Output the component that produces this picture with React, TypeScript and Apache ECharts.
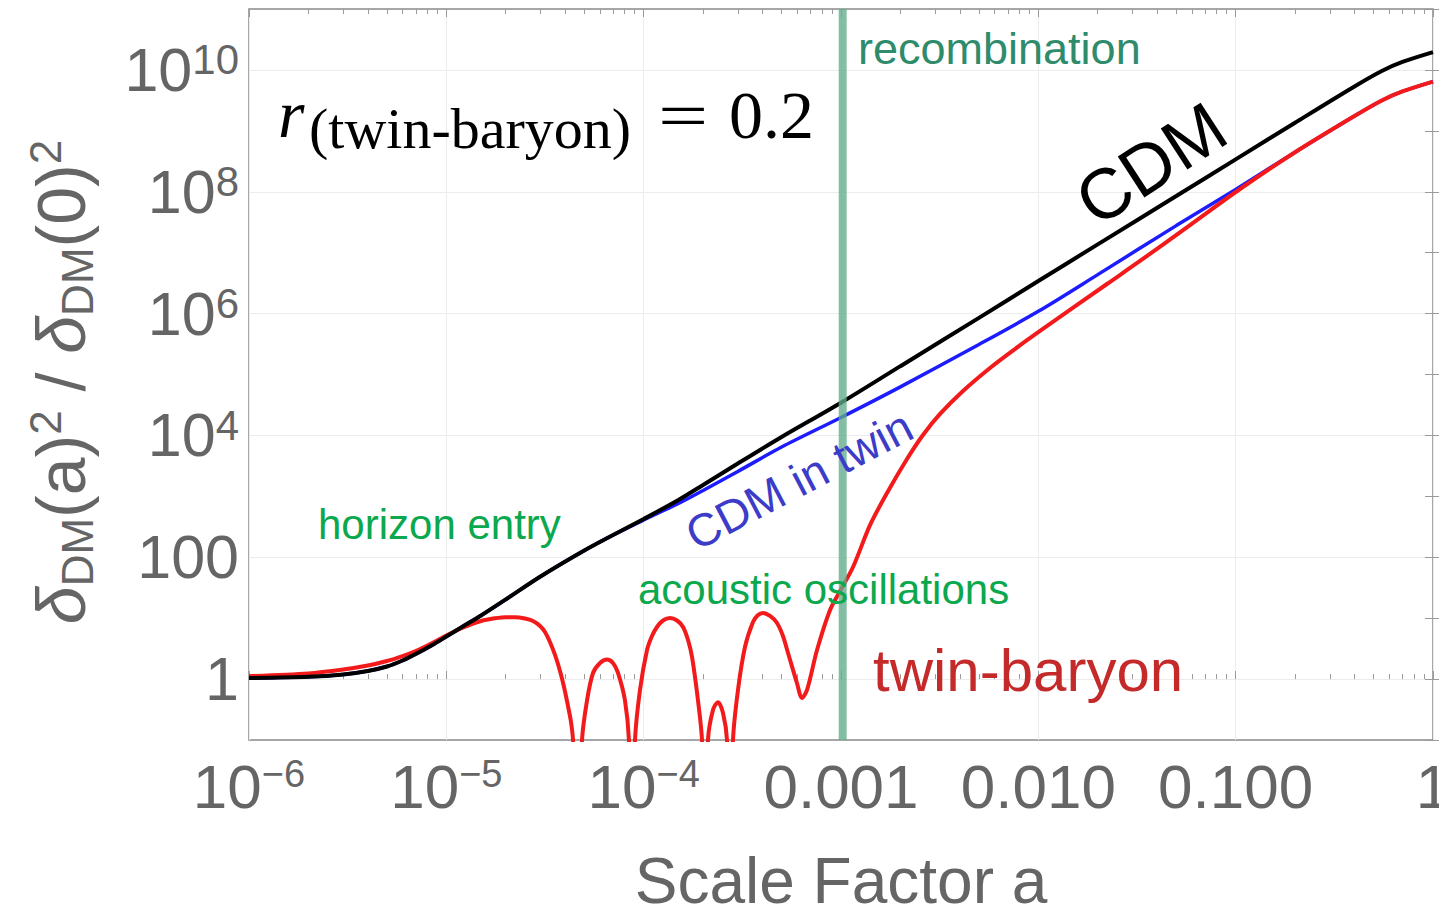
import React, { useEffect, useRef } from 'react';
import * as echarts from 'echarts';

// ---- data (x: scale factor a, y: delta_DM(a)^2 / delta_DM(0)^2) ----
const cdmA = [1e-6, 2e-6, 3e-6, 4e-6, 5e-6, 6e-6, 7e-6, 8.5e-6, 1e-5, 1.2e-5, 1.5e-5, 2e-5, 3e-5, 5e-5, 7e-5, 1e-4, 1.5e-4, 2e-4, 3e-4, 5e-4, 1e-3, 2e-3, 5e-3, 1e-2, 2e-2, 5e-2, 0.1, 0.2, 0.4, 0.55, 0.7, 1];
const cdmDelta2 = [1.04, 1.09, 1.19, 1.36, 1.61, 2.02, 2.58, 3.63, 5.0, 7.17, 11.07, 20.3, 48.3, 129, 232, 425, 871, 1535, 3460, 9420, 34400, 1.37e5, 8.5e5, 3.42e6, 1.37e7, 8.5e7, 3.4e8, 1.36e9, 5.35e9, 9.6e9, 1.35e10, 1.96e10];

const twinCdmA = [1e-6, 2e-6, 3e-6, 4e-6, 5e-6, 6e-6, 7e-6, 8.5e-6, 1e-5, 1.2e-5, 1.5e-5, 2e-5, 3e-5, 5e-5, 7e-5, 1e-4, 1.5e-4, 2e-4, 3e-4, 5e-4, 1e-3, 2e-3, 5e-3, 1e-2, 2e-2, 5e-2, 0.1, 0.2, 0.4, 0.55, 0.7, 1];
const twinCdmDelta2 = [1.04, 1.09, 1.19, 1.36, 1.61, 2.02, 2.58, 3.63, 5.0, 7.17, 11.07, 20.3, 48.3, 129, 232, 409, 763, 1247, 2560, 6450, 19700, 62600, 3.11e5, 1.09e6, 4.36e6, 2.78e7, 1.09e8, 4.46e8, 1.75e9, 3.15e9, 4.43e9, 6.43e9];

const twinBaryonA = [
  1e-6, 2e-6, 3e-6, 4e-6, 5e-6, 6e-6, 7e-6, 8.5e-6, 1e-5, 1.2e-5,
  1.5e-5, 1.764e-5, 2.006e-5, 2.229e-5, 2.504e-5, 2.749e-5, 2.985e-5, 3.162e-5, 3.35e-5, 3.554e-5,
  3.767e-5, 3.948e-5, 4.135e-5, 4.283e-5, 4.384e-5, 4.62e-5, 4.871e-5, 5.164e-5, 5.537e-5, 6.01e-5,
  6.52e-5, 6.99e-5, 7.413e-5, 8.04e-5, 8.42e-5, 8.73e-5, 9.04e-5, 9.58e-5, 1.04e-4, 1.102e-4,
  1.168e-4, 1.253e-4, 1.36e-4, 1.476e-4, 1.583e-4, 1.678e-4, 1.758e-4, 1.885e-4, 1.975e-4, 2.045e-4,
  2.118e-4, 2.245e-4, 2.38e-4, 2.524e-4, 2.644e-4, 2.739e-4, 2.836e-4, 3.006e-4, 3.262e-4, 3.581e-4,
  3.797e-4, 4.024e-4, 4.37e-4, 4.74e-4, 5.08e-4, 5.39e-4, 5.98e-4, 6.34e-4, 6.73e-4, 7.56e-4,
  8.8e-4, 9.89e-4, 1.151e-3, 1.403e-3, 1.711e-3, 2.16e-3, 2.603e-3, 3.176e-3, 4.152e-3, 5.69e-3,
  7.617e-3, 1.02e-2, 2.228e-2, 3.275e-2, 5.87e-2, 0.1052, 0.2, 0.4, 0.55, 0.7,
  1,
];
const twinBaryonDelta2 = [
  1.12, 1.24, 1.44, 1.67, 1.98, 2.39, 2.89, 3.91, 5.2, 6.9,
  8.99, 9.95, 10.38, 10.38, 9.88, 8.99, 7.44, 5.93, 4.06, 2.49,
  1.36, 0.742, 0.362, 0.198, 0.1, 0.001, 0.1, 0.447, 1.26, 1.84,
  2.09, 1.84, 1.26, 0.447, 0.1, 0.001, 0.1, 0.663, 3.0, 5.1,
  7.17, 9.16, 10.07, 9.16, 7.17, 4.38, 2.31, 0.447, 0.1, 0.001,
  0.1, 0.311, 0.418, 0.278, 0.1, 0.001, 0.1, 0.663, 3.36, 8.65,
  11.3, 12.2, 10.86, 8.33, 5.1, 2.68, 0.863, 0.49, 0.663, 3.0,
  13.6, 27.9, 69.2, 337, 1135, 4100, 10160, 22500, 53600, 1.28e5,
  2.62e5, 5.18e5, 3.06e6, 7.3e6, 2.84e7, 1.11e8, 4.46e8, 1.75e9, 3.15e9, 4.43e9,
  6.43e9,
];

const recombinationA = 0.00102;

const xTickValues = [1e-6, 1e-5, 1e-4, 1e-3, 1e-2, 1e-1, 1];
const xTickLabels = [['10', '−6'], ['10', '−5'], ['10', '−4'], ['0.001', ''], ['0.010', ''], ['0.100', ''], ['1', '']];
const yTickExponents = [0, 2, 4, 6, 8, 10];
const yTickLabels = [['1', ''], ['100', ''], ['10', '4'], ['10', '6'], ['10', '8'], ['10', '10']];

// ---- styling ----
const SANS = "'Liberation Sans', Arial, Helvetica, sans-serif";
const SERIF = "'Liberation Serif', 'Times New Roman', serif";
const GRAY = '#656565';
const TICK = '#9a9a9a';
const GRID = '#ececec';

const minorMultipliers = [2, 3, 4, 5, 6, 7, 8, 9];
const xMinorTickExp: number[] = [];
for (let k = -6; k < 0; k++) for (const m of minorMultipliers) xMinorTickExp.push(k + Math.log10(m));

const pairs = (xs: number[], ys: number[]) => xs.map((x, i) => [x, ys[i]]);

function buildOption(): any {
  const labelRich = (base: number, sup: number, supLH: number) => ({
    b: { fontSize: base, lineHeight: 62, fontFamily: SANS, color: GRAY },
    s: { fontSize: sup, lineHeight: supLH, verticalAlign: 'top', fontFamily: SANS, color: GRAY },
  });
  const fmt = (p: string[]) => (p[1] ? `{b|${p[0]}}{s|${p[1]}}` : `{b|${p[0]}}`);
  const decoAxisBase = {
    axisLine: { show: false },
    axisLabel: { show: false },
    splitLine: { show: false },
    silent: true,
  };
  const mid = { textVerticalAlign: 'middle', verticalAlign: 'middle' };
  const ctr = { textAlign: 'center', align: 'center', textVerticalAlign: 'middle', verticalAlign: 'middle' };
  const tx = (o: any) => ({ type: 'text', z: 100, silent: true, ...o });

  return {
    animation: false,
    backgroundColor: '#ffffff',
    grid: {
      left: 249, right: 6, top: 9, bottom: 167,
      show: true, borderColor: '#8a8a8a', borderWidth: 1.5, backgroundColor: 'transparent',
      outerBoundsMode: 'none', containLabel: false,
    },
    xAxis: [
      {
        type: 'log', logBase: 10, min: 1e-6, max: 1, position: 'bottom',
        axisLine: { show: false },
        axisTick: { show: true, inside: true, length: 8, lineStyle: { color: TICK, width: 1 } },
        splitLine: { show: true, lineStyle: { color: GRID, width: 1 } },
        axisLabel: {
          margin: 15,
          formatter: (v: number) => {
            const e = Math.round(Math.log10(v));
            const i = xTickValues.findIndex((t) => Math.round(Math.log10(t)) === e);
            return i < 0 ? '' : fmt(xTickLabels[i]);
          },
          rich: labelRich(62, 38, 22),
        },
        name: 'Scale Factor a',
        nameLocation: 'middle',
        nameGap: 116,
        nameTextStyle: { fontSize: 64, lineHeight: 50, fontFamily: SANS, color: GRAY },
      },
      {
        type: 'value', min: -6, max: 0, position: 'bottom', ...decoAxisBase,
        axisTick: { show: true, inside: true, length: 5, customValues: xMinorTickExp, lineStyle: { color: TICK } },
      },
      {
        type: 'value', min: -6, max: 0, interval: 1, position: 'top', ...decoAxisBase,
        axisTick: { show: true, inside: true, length: 8, lineStyle: { color: TICK } },
      },
      {
        type: 'value', min: -6, max: 0, position: 'top', ...decoAxisBase,
        axisTick: { show: true, inside: true, length: 5, customValues: xMinorTickExp, lineStyle: { color: TICK } },
      },
    ],
    yAxis: [
      {
        type: 'log', logBase: 10, min: 0.1, max: 1e11, position: 'left',
        axisLine: { show: false }, axisTick: { show: false }, axisLabel: { show: false }, splitLine: { show: false },
      },
      {
        type: 'value', min: -1, max: 11, interval: 1, position: 'left',
        axisLine: { show: false },
        axisTick: { show: true, inside: true, length: 8, lineStyle: { color: TICK } },
        splitLine: { show: true, lineStyle: { color: ['rgba(0,0,0,0)', GRID], width: 1 } },
        axisLabel: {
          margin: 10,
          formatter: (v: number) => {
            const i = yTickExponents.indexOf(Math.round(v));
            return i < 0 ? '' : fmt(yTickLabels[i]);
          },
          rich: labelRich(61, 42, 28),
        },
      },
      {
        type: 'value', min: -1, max: 11, interval: 1, position: 'right', ...decoAxisBase,
        axisTick: { show: true, inside: true, length: 8, lineStyle: { color: TICK } },
      },
    ],
    series: [
      {
        name: 'CDM in twin', type: 'line', xAxisIndex: 0, yAxisIndex: 0,
        data: pairs(twinCdmA, twinCdmDelta2), symbol: 'none', smooth: 0.3, silent: true,
        lineStyle: { color: '#1c1cff', width: 3.5 }, z: 2,
      },
      {
        name: 'twin-baryon', type: 'line', xAxisIndex: 0, yAxisIndex: 0,
        data: pairs(twinBaryonA, twinBaryonDelta2), symbol: 'none', smooth: 0.3, silent: true,
        lineStyle: { color: '#f21a1a', width: 4 }, z: 3,
      },
      {
        name: 'CDM', type: 'line', xAxisIndex: 0, yAxisIndex: 0,
        data: pairs(cdmA, cdmDelta2), symbol: 'none', smooth: 0.3, silent: true,
        lineStyle: { color: '#000000', width: 4 }, z: 4,
      },
      {
        name: 'recombination', type: 'line', xAxisIndex: 0, yAxisIndex: 0,
        data: [[recombinationA, 0.1], [recombinationA, 1e11]], symbol: 'none', silent: true,
        lineStyle: { color: 'rgba(96,172,140,0.78)', width: 8 }, z: 5,
      },
    ],
    graphic: [
      tx({ x: 278, y: 114, style: { text: 'r', fontSize: 68, fontStyle: 'italic', fontFamily: SERIF, fill: '#000', ...mid } }),
      tx({ x: 309, y: 128, style: { text: '(twin-baryon)', fontSize: 58, fontFamily: SERIF, fill: '#000', ...mid } }),
      tx({ x: 658, y: 116, scaleX: 1.35, style: { text: '=', fontSize: 66, fontFamily: SERIF, fill: '#000', ...mid } }),
      tx({ x: 729, y: 115, style: { text: '0.2', fontSize: 68, fontFamily: SERIF, fill: '#000', ...mid } }),
      tx({ x: 858, y: 48, style: { text: 'recombination', fontSize: 45, fontFamily: SANS, fill: '#2e8b6c', ...mid } }),
      tx({ x: 1151, y: 164, rotation: (33 * Math.PI) / 180, style: { text: 'CDM', fontSize: 71, fontFamily: SANS, fill: '#000', ...ctr } }),
      tx({ x: 799, y: 480, rotation: (27.5 * Math.PI) / 180, style: { text: 'CDM in twin', fontSize: 46, fontFamily: SANS, fill: '#3c3cc8', ...ctr } }),
      tx({ x: 318, y: 524, style: { text: 'horizon entry', fontSize: 42, fontFamily: SANS, fill: '#0ba84e', ...mid } }),
      tx({ x: 638, y: 589, style: { text: 'acoustic oscillations', fontSize: 42, fontFamily: SANS, fill: '#0ba84e', ...mid } }),
      tx({ x: 873, y: 670, style: { text: 'twin-baryon', fontSize: 60, fontFamily: SANS, fill: '#c42a2a', ...mid } }),
      tx({
        x: 61, y: 382, rotation: Math.PI / 2,
        style: {
          text: '{d|δ}{sub|DM}{n|(a)}{sup|2}{n| / }{d|δ}{sub|DM}{n|(0)}{sup|2}',
          ...ctr,
          fill: GRAY, fontFamily: SANS, fontSize: 68,
          rich: {
            d: { fontSize: 68, lineHeight: 76, fontStyle: 'italic', fontFamily: SANS, fill: GRAY },
            n: { fontSize: 68, lineHeight: 76, fontFamily: SANS, fill: GRAY },
            sub: { fontSize: 44, lineHeight: 32, verticalAlign: 'bottom', fontFamily: SANS, fill: GRAY },
            sup: { fontSize: 44, lineHeight: 28, verticalAlign: 'top', fontFamily: SANS, fill: GRAY },
          },
        },
      }),
    ],
  };
}

export default function App() {
  const ref = useRef<HTMLDivElement>(null);
  useEffect(() => {
    if (!ref.current) return;
    const chart = echarts.init(ref.current, null, { renderer: 'svg' });
    chart.setOption(buildOption());
    return () => chart.dispose();
  }, []);
  return (
    <div
      ref={ref}
      style={{ position: 'fixed', left: 0, top: 0, width: 1439, height: 907, background: '#ffffff' }}
    />
  );
}
